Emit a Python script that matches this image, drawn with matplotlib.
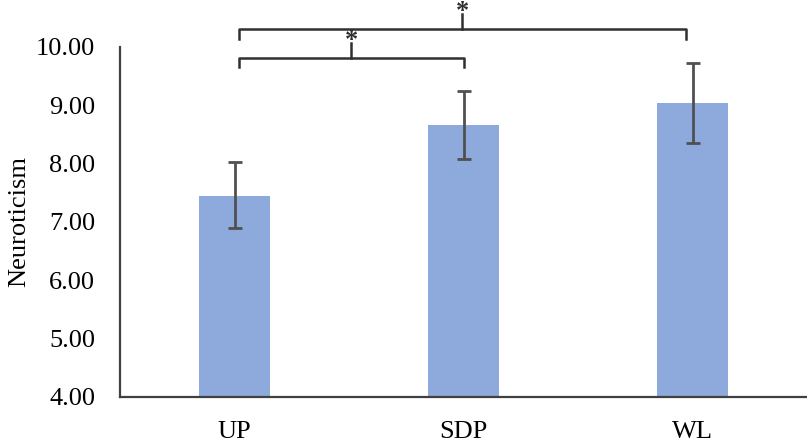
import numpy as np
import matplotlib.pyplot as plt

# data
groups = ["UP", "SDP", "WL"]
means = [7.45, 8.66, 9.04]
err_low = [6.89, 8.08, 8.35]
err_high = [8.02, 9.25, 9.73]

plt.rcParams['font.family'] = ['Liberation Serif', 'DejaVu Serif']

fig = plt.figure(figsize=(8.07, 4.46), dpi=100)
ax = fig.add_axes([0.149, 0.110, 0.851, 0.785])

x = np.arange(len(groups))
means = np.array(means)
yerr = np.array([means - np.array(err_low), np.array(err_high) - means])

ax.bar(x, means - 4.0, bottom=4.0, width=0.31, color="#8EA9DB", zorder=2)
ax.errorbar(x, means, yerr=yerr, fmt="none", ecolor="#505050",
            elinewidth=2.0, capsize=5, capthick=2.0, zorder=3)

ax.set_xlim(-0.5, 2.5)
ax.set_ylim(4.0, 10.0)
ax.set_yticks(np.arange(4, 10.01, 1))
ax.set_yticklabels(["%.2f" % v for v in np.arange(4, 10.01, 1)])
ax.set_xticks(x)
ax.set_xticklabels(groups)
ax.tick_params(axis="both", length=0, labelsize=19, colors="#000000")
ax.tick_params(axis="x", pad=17)
ax.tick_params(axis="y", pad=18)
ax.set_ylabel("Neuroticism", fontsize=19, labelpad=4)

for s in ["top", "right"]:
    ax.spines[s].set_visible(False)
for s in ["left", "bottom"]:
    ax.spines[s].set_color("#404040")
    ax.spines[s].set_linewidth(1.6)


# significance brackets drawn above the axes
def bracket(x0, x1, y, drop, star_y):
    kw = dict(color="#303030", lw=1.8, clip_on=False, zorder=4)
    ax.plot([x0, x0, x1, x1], [y - drop, y, y, y - drop], **kw)
    xm = (x0 + x1) / 2
    ax.plot([xm, xm], [y, star_y - 0.04], **kw)
    ax.text(xm, star_y, "*", ha="center", va="center", fontsize=19,
            fontweight="bold", color="#303030", clip_on=False)


bracket(0.02, 1.0, 9.81, 0.16, 10.10)
bracket(0.02, 1.97, 10.30, 0.16, 10.60)

fig.savefig("out.png", dpi=100)
